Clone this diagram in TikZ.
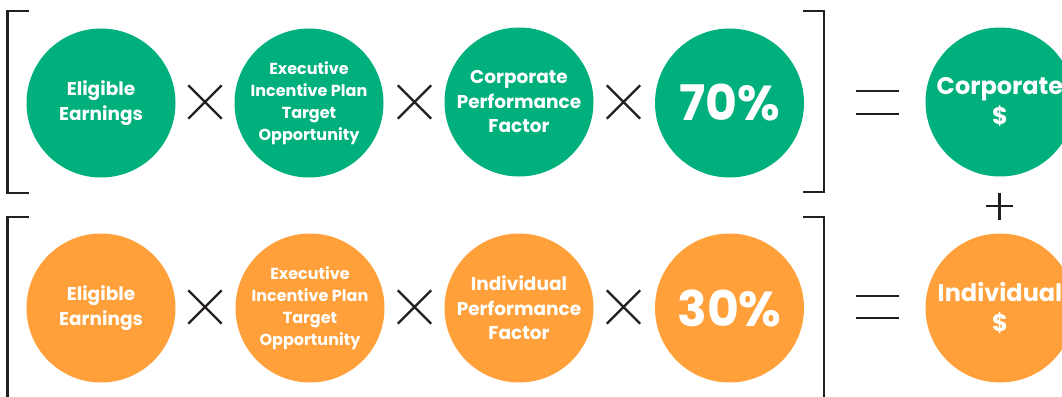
\documentclass[tikz,border=0pt]{standalone}
\usepackage{fontspec}
\setmainfont{Poppins}
\usetikzlibrary{shapes.misc}
\definecolor{cgreen}{RGB}{0,176,124}
\definecolor{corange}{RGB}{255,160,58}
\definecolor{ink}{RGB}{35,31,32}
\tikzset{
  ball/.style={circle, minimum size=149pt, inner sep=0pt, text=white, align=center, font=\bfseries\fontsize{18.5}{24.5}\selectfont},
  gball/.style={ball, fill=cgreen},
  oball/.style={ball, fill=corange},
  small/.style={font=\bfseries\fontsize{16}{22}\selectfont},
  big/.style={font=\bfseries\fontsize{49}{50}\selectfont},
  res/.style={font=\bfseries\fontsize{24}{30}\selectfont},
  times/.style={cross out, draw=ink, line width=2.4pt, minimum size=31pt, inner sep=0pt},
  brk/.style={draw=ink, line width=2.8pt},
  op/.style={draw=ink, line width=2.8pt}
}
\begin{document}
\begin{tikzpicture}[x=1pt,y=-1pt]
\useasboundingbox (0,0) rectangle (1062,396);
\clip (0,0) rectangle (1062,396);
% top row
\node[gball] (g1) at (101,103) {Eligible\\Earnings};
\node[gball, small] (g2) at (309,103) {Executive\\Incentive Plan\\Target\\Opportunity};
\node[gball] (g3) at (519,102) {Corporate\\Performance\\Factor};
\node[gball, big] (g4) at (729.5,103) {70\%};
\node[gball, res] (g5) at (1000,102) {Corporate\\\$};
\node[times] (t1) at (205,102) {};
\node[times] (t2) at (414.5,102) {};
\node[times] (t3) at (623.5,102) {};
% bottom row
\node[oball] (o1) at (101,308) {Eligible\\Earnings};
\node[oball, small] (o2) at (310,308) {Executive\\Incentive Plan\\Target\\Opportunity};
\node[oball] (o3) at (519,308) {Individual\\Performance\\Factor};
\node[oball, big] (o4) at (729.5,308) {30\%};
\node[oball, res] (o5) at (1000,308) {Individual\\\$};
\node[times] (t4) at (205,307) {};
\node[times] (t5) at (414.5,307) {};
\node[times] (t6) at (623.5,307) {};
% brackets
\draw[brk] (29,11) -- (7.5,11) -- (7.5,193) -- (29,193);
\draw[brk] (29,217) -- (7.5,217) -- (7.5,402);
\draw[brk] (803,11) -- (824,11) -- (824,192) -- (803,192);
\draw[brk] (803,217) -- (824,217) -- (824,402);
% equals
\draw[op] (856,91) -- (899,91);
\draw[op] (856,114) -- (899,114);
\draw[op] (856,296) -- (899,296);
\draw[op] (856,318) -- (899,318);
% plus
\draw[op] (986,206) -- (1013,206);
\draw[op] (999.5,193) -- (999.5,220);
\end{tikzpicture}
\end{document}
